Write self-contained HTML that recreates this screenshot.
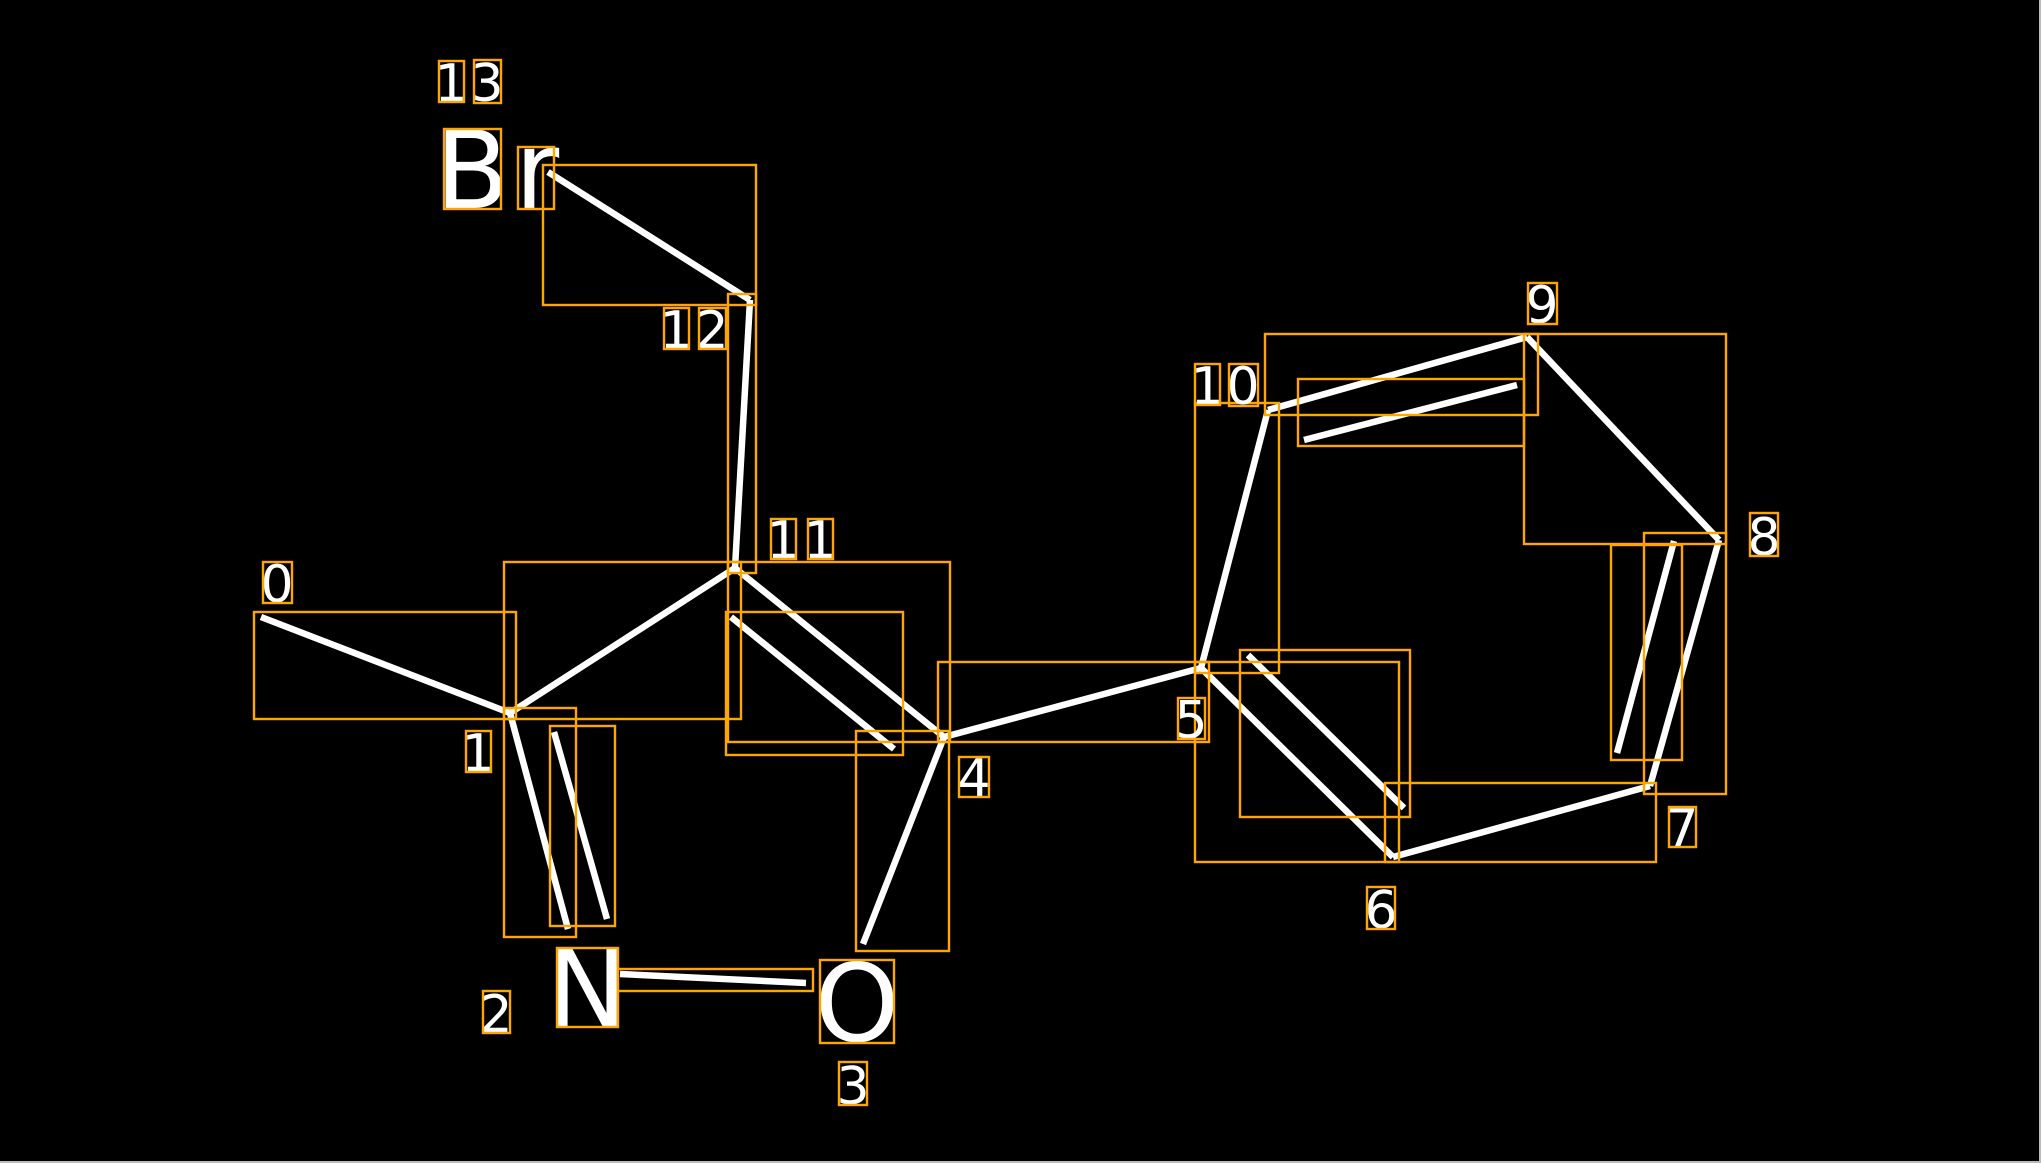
<!DOCTYPE html>
<html><head><style>html,body{margin:0;padding:0;background:#000;}svg{display:block}</style></head>
<body>
<svg width="2041" height="1163" viewBox="0 0 2041 1163" xmlns="http://www.w3.org/2000/svg">
<rect width="2041" height="1163" fill="#000"/>
<line x1="2040" y1="0" x2="2040" y2="1163" stroke="#bbb" stroke-width="2"/>
<line x1="0" y1="1162" x2="2041" y2="1162" stroke="#bbb" stroke-width="2"/>
<g stroke="#fff" stroke-width="6.5" stroke-linecap="butt" fill="none">
<line x1="261" y1="617" x2="510" y2="713"/>
<line x1="510" y1="713" x2="735" y2="568"/>
<line x1="735" y1="568" x2="750" y2="300"/>
<line x1="750" y1="300" x2="548" y2="172"/>
<line x1="510" y1="713" x2="568" y2="929"/>
<line x1="554" y1="732" x2="607" y2="919"/>
<line x1="620" y1="974" x2="806" y2="983"/>
<line x1="863" y1="944" x2="944" y2="737"/>
<line x1="944" y1="737" x2="735" y2="568"/>
<line x1="731" y1="617" x2="894" y2="749"/>
<line x1="944" y1="737" x2="1201" y2="668"/>
<line x1="1201" y1="668" x2="1268" y2="410"/>
<line x1="1268" y1="410" x2="1527" y2="337"/>
<line x1="1304" y1="440" x2="1517" y2="385"/>
<line x1="1527" y1="337" x2="1719" y2="540"/>
<line x1="1719" y1="540" x2="1650" y2="786"/>
<line x1="1674" y1="541" x2="1617" y2="753"/>
<line x1="1650" y1="786" x2="1393" y2="857"/>
<line x1="1393" y1="857" x2="1201" y2="668"/>
<line x1="1248" y1="655" x2="1404" y2="808"/>
</g>
<g stroke="#FFA500" stroke-width="2.4" fill="none">
<rect x="254" y="612" width="262" height="107"/>
<rect x="504" y="562" width="237" height="157"/>
<rect x="728" y="294" width="28" height="279"/>
<rect x="543" y="165" width="213" height="140"/>
<rect x="504" y="708" width="72" height="229"/>
<rect x="550" y="726" width="65" height="200"/>
<rect x="614" y="969" width="199" height="22"/>
<rect x="856" y="731" width="93" height="220"/>
<rect x="728" y="562" width="222" height="180"/>
<rect x="726" y="612" width="177" height="143"/>
<rect x="938" y="662" width="271" height="80"/>
<rect x="1195" y="403" width="84" height="270"/>
<rect x="1265" y="334" width="273" height="81"/>
<rect x="1298" y="379" width="226" height="67"/>
<rect x="1524" y="334" width="202" height="210"/>
<rect x="1644" y="533" width="82" height="261"/>
<rect x="1611" y="545" width="71" height="215"/>
<rect x="1385" y="783" width="271" height="79"/>
<rect x="1195" y="662" width="204" height="200"/>
<rect x="1240" y="650" width="170" height="167"/>
</g>
<g fill="#fff" font-family="DejaVu Sans, Liberation Sans, sans-serif" text-anchor="middle">
<g font-size="108">
<text x="472" y="208">B</text>
<text x="537" y="208">r</text>
<text x="587" y="1026">N</text>
<text x="857" y="1041">O</text>
</g>
<g font-size="52">
<text x="451" y="101">1</text><text x="487" y="101">3</text>
<text x="676" y="348">1</text><text x="712" y="348">2</text>
<text x="783" y="558">1</text><text x="820" y="558">1</text>
<text x="1207" y="404">1</text><text x="1243" y="404">0</text>
<text x="1542" y="323">9</text>
<text x="1764" y="555">8</text>
<text x="1682" y="846">7</text>
<text x="1381" y="928">6</text>
<text x="1191" y="738">5</text>
<text x="974" y="796">4</text>
<text x="853" y="1104">3</text>
<text x="496" y="1032">2</text>
<text x="478" y="771">1</text>
<text x="277" y="602">0</text>
</g>
</g>
<g stroke="#FFA500" stroke-width="2.4" fill="none">
<rect x="444" y="129" width="57" height="80"/>
<rect x="518" y="147" width="36" height="62"/>
<rect x="557" y="948" width="61" height="79"/>
<rect x="820" y="960" width="74" height="83"/>
<rect x="439" y="61" width="25" height="41"/>
<rect x="474" y="60" width="27" height="43"/>
<rect x="664" y="308" width="25" height="41"/>
<rect x="699" y="308" width="27" height="41"/>
<rect x="771" y="519" width="25" height="40"/>
<rect x="808" y="519" width="25" height="40"/>
<rect x="1195" y="364" width="25" height="41"/>
<rect x="1229" y="364" width="29" height="42"/>
<rect x="1528" y="283" width="29" height="41"/>
<rect x="1750" y="513" width="28" height="43"/>
<rect x="1669" y="807" width="27" height="40"/>
<rect x="1367" y="887" width="28" height="42"/>
<rect x="1178" y="698" width="27" height="41"/>
<rect x="959" y="757" width="30" height="40"/>
<rect x="839" y="1062" width="28" height="43"/>
<rect x="483" y="991" width="27" height="42"/>
<rect x="466" y="731" width="25" height="41"/>
<rect x="263" y="562" width="29" height="41"/>
</g>
</svg>
</body></html>
